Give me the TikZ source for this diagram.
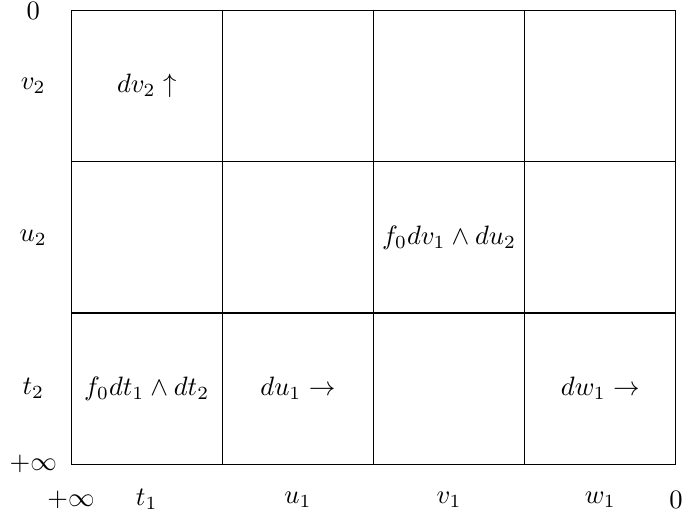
\documentclass[tikz,border=0pt]{standalone}
\usepackage{amsmath,amssymb}
\usetikzlibrary{positioning}
\tikzset{
  axlab/.style={inner sep=1pt,anchor=center},
  cell/.style={inner sep=1pt,anchor=center},
}

\begin{document}
\begin{tikzpicture}
\useasboundingbox (-0.94,-0.71) rectangle (8.08,6.14);

\draw[step=2] (0,0) grid (8,6);

% ================= AXES =================
\node[axlab] (ytop) at (-0.5,6) {$0$};
\node[axlab] (yv) at (-0.5,5) {$v_2$};
\node[axlab] (yu) at (-0.5,3) {$u_2$};
\node[axlab] (yt) at (-0.5,1) {$t_2$};
\node[axlab] (yinf) at (-0.5,0) {$+\infty$};

\node[axlab] (xinf) at (0,-0.47) {$+\infty$};
\node[axlab] (xt) at (1,-0.47) {$t_1$};
\node[axlab] (xu) at (3,-0.47) {$u_1$};
\node[axlab] (xv) at (5,-0.47) {$v_1$};
\node[axlab] (xw) at (7,-0.47) {$w_1$};
\node[axlab] (xzero) at (8,-0.47) {$0$};

% ================= CELLS =================
\node[cell] (cv) at (1,5) {$dv_2\uparrow$};
\node[cell] (cvu) at (5,3) {$f_0dv_1\wedge du_2$};
\node[cell] (ctt) at (1,1) {$f_0dt_1\wedge dt_2$};
\node[cell] (cu) at (3,1) {$du_1\rightarrow$};
\node[cell] (cw) at (7,1) {$dw_1\rightarrow$};

\end{tikzpicture}
\end{document}
